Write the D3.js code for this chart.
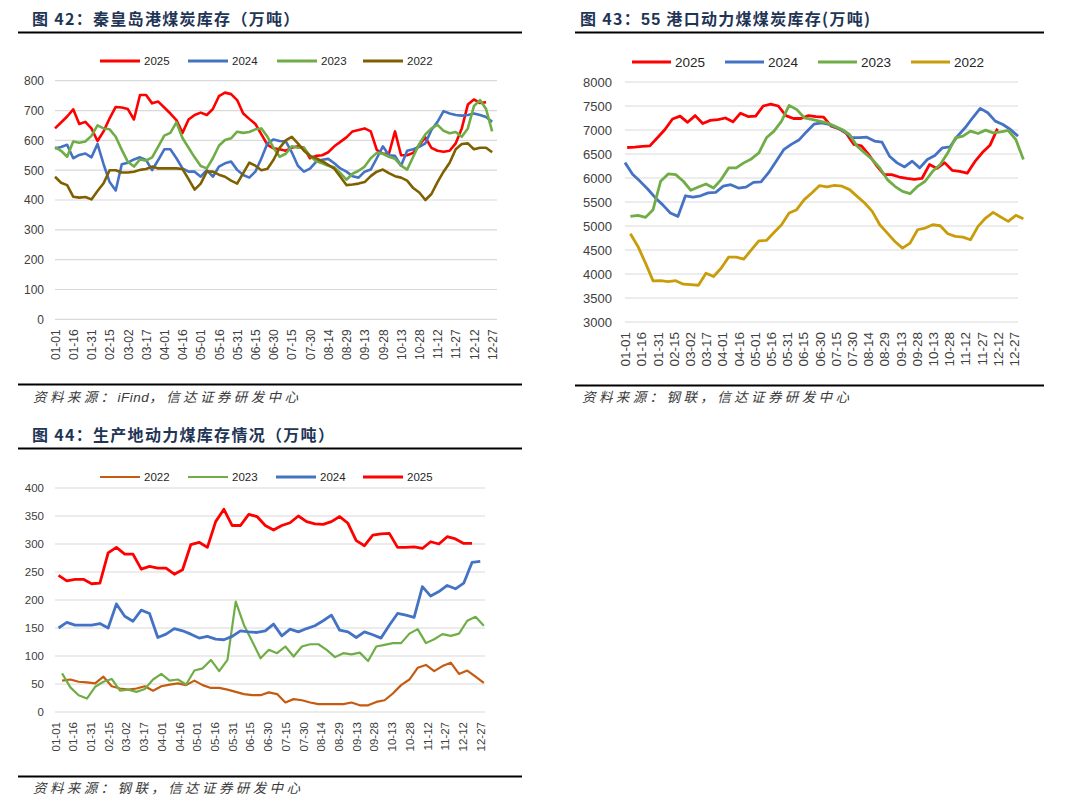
<!DOCTYPE html>
<html>
<head>
<meta charset="utf-8">
<script src="https://cdn.jsdelivr.net/npm/d3@7"></script>
<style>
  body { margin: 0; background: #fff; }
  svg { display: block; }
</style>
</head>
<body>
<svg id="svg" width="1080" height="812"></svg>
<script>
const svg = d3.select("#svg");
const cjk = "'Noto Sans CJK SC', sans-serif";
const latin = "'Liberation Sans', Arial, sans-serif";

// x axis labels, one every 15 days
const dateTicks = ["01-01","01-16","01-31","02-15","03-02","03-17","04-01","04-16","05-01","05-16","05-31","06-15","06-30","07-15","07-30","08-14","08-29","09-13","09-28","10-13","10-28","11-12","11-27","12-12","12-27"];
const tickDays = dateTicks.map((_, i) => i * 15);

// 图42 秦皇岛港煤炭库存, read every 5 days from 01-01
const qhd2025 = [640,660,680,704,655,662,640,598,630,674, 712,710,705,670,752,752,724,730,710,690,
  668,625,670,685,693,685,705,748,760,755, 735,690,672,655,620,585,573,570,565,575,
  580,575,540,548,550,560,580,595,610,630, 635,640,630,568,555,555,630,550,550,558,
  585,610,575,565,562,565,590,640,720,737, 725,728];
const qhd2024 = [573,578,585,540,551,556,543,588,520,460, 432,520,525,536,543,534,500,534,570,570,
  540,506,495,495,478,500,478,512,523,529, 501,484,475,495,540,590,603,598,597,560,
  515,495,505,528,535,538,523,506,495,480, 475,495,502,540,580,550,548,515,565,570,
  578,590,635,662,698,690,685,683,685,690, 685,678,662];
const qhd2023 = [577,565,545,596,592,596,615,650,640,637, 612,568,528,512,536,532,543,579,616,625,
  660,608,575,543,514,506,540,582,601,607, 629,625,628,637,640,612,575,545,555,580,
  575,575,548,530,523,515,510,490,468,488, 498,512,540,558,555,545,538,515,502,545,
  588,620,640,652,632,624,628,612,640,715, 735,705,630];
const qhd2022 = [478,458,450,411,408,410,402,430,456,500, 500,492,492,495,501,504,512,506,506,506,
  506,504,470,435,455,495,495,485,478,465, 455,490,525,515,500,505,535,575,600,612,
  590,565,548,540,530,518,505,478,450,452, 455,460,480,495,502,490,480,475,465,440,
  425,400,420,460,495,525,570,588,590,570, 575,575,560];

// 图43 55港口动力煤煤炭库存, weekly
const port2025 = [6635,6645,6660,6670,6840,7010,7230,7290,7160,7300, 7136,7200,7215,7250,7170,7350,7280,7290,7500,7540,
  7500,7300,7240,7240,7300,7280,7270,7080,7030,6930, 6700,6670,6480,6260,6070,6070,6020,5990,5970,5990,
  6280,6200,6320,6160,6140,6100,6340,6530,6680,7030];
const port2024 = [6320,6080,5930,5770,5590,5440,5270,5200,5630,5600, 5630,5690,5700,5830,5860,5790,5810,5910,5920,6110,
  6350,6590,6700,6790,6960,7120,7150,7115,7046,6976, 6840,6840,6850,6770,6746,6454,6315,6231,6350,6210,
  6385,6468,6628,6650,6872,7046,7255,7450,7360,7185, 7115,7011,6872];
const port2023 = [5200,5222,5180,5340,5932,6085,6071,5932,5744,5813, 5876,5792,5967,6210,6210,6315,6398,6524,6837,6976,
  7185,7513,7429,7255,7220,7185,7150,7081,7011,6907, 6663,6524,6385,6210,5967,5827,5723,5674,5827,5932,
  6140,6280,6524,6837,6872,6976,6927,6997,6941,6960, 6990,6802,6385];
const port2022 = [4838,4574,4225,3856,3863,3843,3860,3787,3780,3766, 4016,3947,4121,4351,4351,4309,4504,4692,4699,4866,
  5026,5270,5340,5549,5688,5841,5813,5848,5830,5758, 5618,5479,5305,5026,4852,4678,4539,4643,4922,4957,
  5026,5005,4838,4783,4769,4713,4992,5166,5284,5187, 5096,5222,5152];

// 图44 生产地动力煤库存, weekly
const prod2022 = [56,58,54,53,51,63,46,42,40,42, 46,38,46,49,51,48,56,48,43,43, 40,36,32,30,30,35,32,17,23,21,
  17,14,14,14,14,17,12,12,18,21, 33,48,58,79,84,73,82,88,68,74, 63,52];
const prod2023 = [69,44,30,24,45,54,59,38,40,36, 41,58,68,56,58,49,74,78,93,73, 93,197,155,126,96,111,105,117,99,117,
  121,121,111,98,105,103,106,91,117,120, 123,123,140,148,123,130,139,136,140,163, 170,154];
const prod2024 = [150,160,155,155,155,158,150,193,171,162, 182,176,133,139,149,145,139,132,135,130, 129,135,145,143,142,145,157,136,148,143,
  149,154,163,173,146,143,133,143,138,132, 155,176,173,169,224,207,215,226,220,230, 267,269];
const prod2025 = [244,234,237,237,229,230,284,294,282,282, 255,260,257,257,246,254,299,303,294,340, 362,333,333,353,349,333,325,333,338,350,
  340,336,335,340,349,337,306,297,316,318, 319,294,294,295,292,304,300,313,309,301, 301];

const yTicks42 = [0,100,200,300,400,500,600,700,800];
const yTicks43 = [3000,3500,4000,4500,5000,5500,6000,6500,7000,7500,8000];
const yTicks44 = [0,50,100,150,200,250,300,350,400];

const red = "#ff0000", blue = "#4472c4", green = "#70ad47";

function panel(p) {
  const g = svg.append("g");

  const t = g.append("text").attr("x", p.titleX).attr("y", p.titleY)
    .attr("fill", "#1f3556").style("font-size", "16px").style("letter-spacing", "1.3px");
  p.title.forEach(s => t.append("tspan").text(s.text)
    .style("font-family", s.latin ? latin : cjk).style("font-weight", 700));

  g.append("line").attr("x1", p.ruleX[0]).attr("x2", p.ruleX[1]).attr("y1", p.ruleTop).attr("y2", p.ruleTop)
    .attr("stroke", "#000").attr("stroke-width", 2.2);
  g.append("line").attr("x1", p.ruleX[0]).attr("x2", p.ruleX[1]).attr("y1", p.ruleBottom).attr("y2", p.ruleBottom)
    .attr("stroke", "#000").attr("stroke-width", 2.2);

  const x = d3.scaleLinear().domain([0, 364]).range([p.x0, p.x1]);
  const y = d3.scaleLinear().domain([p.yTicks[0], p.yTicks[p.yTicks.length - 1]]).range([p.yBottom, p.yTop]);

  g.append("g").selectAll("line").data(p.yTicks).enter().append("line")
    .attr("x1", p.x0).attr("x2", p.x1).attr("y1", d => y(d)).attr("y2", d => y(d))
    .attr("stroke", "#d9d9d9").attr("stroke-width", 1.2);

  const ya = g.append("g").attr("transform", `translate(${p.x0},0)`)
    .call(d3.axisLeft(y).tickValues(p.yTicks).tickFormat(d3.format("d")).tickSize(0).tickPadding(p.yPad));
  ya.select(".domain").remove();
  ya.selectAll("text").style("font-family", latin).style("font-size", p.yFont + "px").attr("fill", "#404040");

  const xa = g.append("g").attr("transform", `translate(0,${p.yBottom})`)
    .call(d3.axisBottom(x).tickValues(tickDays).tickFormat((d, i) => dateTicks[i]).tickSize(0));
  xa.select(".domain").remove();
  xa.selectAll("text")
    .attr("transform", "rotate(-90)").attr("x", -10).attr("y", 0).attr("dy", "0.35em")
    .style("text-anchor", "end").style("font-family", latin).style("font-size", p.xFont + "px").attr("fill", "#404040");

  const line = d3.line().x(d => x(d[0])).y(d => y(d[1]));
  p.series.forEach(s => {
    const pts = s.values.map((v, i) => [s.start + p.step * i, v]);
    g.append("path").datum(pts).attr("d", line).attr("fill", "none")
      .attr("stroke", s.color).attr("stroke-width", s.width).attr("stroke-linejoin", "round");
  });

  p.series.forEach((s, i) => {
    const lx = p.legendX[i];
    g.append("line").attr("x1", lx).attr("x2", lx + p.legendLen).attr("y1", p.legendY).attr("y2", p.legendY)
      .attr("stroke", s.color).attr("stroke-width", s.legendWidth || 3);
    g.append("text").attr("x", lx + p.legendLen + 4).attr("y", p.legendY).attr("dy", "0.35em")
      .style("font-family", latin).style("font-size", p.legendFont + "px").attr("fill", "#262626").text(s.name);
  });

  const src = g.append("text").attr("x", p.srcX).attr("y", p.srcY).attr("fill", "#3a3a3a")
    .style("font-size", "13.5px").style("font-style", "italic").style("letter-spacing", "3.4px");
  p.source.forEach(s => src.append("tspan").text(s.text)
    .style("font-family", s.latin ? latin : cjk).style("letter-spacing", s.latin ? "0.5px" : null));
}

panel({
  title: [{ text: "图 42：秦皇岛港煤炭库存（万吨）" }],
  titleX: 32, titleY: 25, ruleX: [18, 522], ruleTop: 32.5, ruleBottom: 384.5,
  x0: 55, x1: 497, yTop: 80.7, yBottom: 319.3, yTicks: yTicks42, yPad: 11, yFont: 12, xFont: 12,
  step: 5, legendY: 61, legendX: [100, 188, 277, 363], legendLen: 40, legendFont: 11.5,
  series: [
    { name: "2025", values: qhd2025, start: 0, color: red, width: 2.6 },
    { name: "2024", values: qhd2024, start: 0, color: blue, width: 2.6 },
    { name: "2023", values: qhd2023, start: 0, color: green, width: 2.6 },
    { name: "2022", values: qhd2022, start: 0, color: "#7f6000", width: 2.6 }
  ],
  source: [{ text: "资料来源：" }, { text: "iFind", latin: true }, { text: "，信达证券研发中心" }],
  srcX: 33, srcY: 402
});

panel({
  title: [{ text: "图 43：" }, { text: "55", latin: true }, { text: " 港口动力煤煤炭库存(万吨)" }],
  titleX: 580, titleY: 25, ruleX: [575, 1044], ruleTop: 32.5, ruleBottom: 385.5,
  x0: 625, x1: 1018, yTop: 82, yBottom: 322, yTicks: yTicks43, yPad: 13, yFont: 13, xFont: 13.5,
  step: 7, legendY: 62, legendX: [632, 725, 818, 911], legendLen: 39, legendFont: 13.5,
  series: [
    { name: "2025", values: port2025, start: 2, color: red, width: 2.8 },
    { name: "2024", values: port2024, start: 0, color: blue, width: 2.8 },
    { name: "2023", values: port2023, start: 5, color: green, width: 2.8 },
    { name: "2022", values: port2022, start: 5, color: "#c99c0a", width: 2.8 }
  ],
  source: [{ text: "资料来源：钢联，信达证券研发中心" }],
  srcX: 582, srcY: 402
});

panel({
  title: [{ text: "图 44：生产地动力煤库存情况（万吨）" }],
  titleX: 32, titleY: 441, ruleX: [18, 522], ruleTop: 448.5, ruleBottom: 776.5,
  x0: 55, x1: 485, yTop: 488, yBottom: 712, yTicks: yTicks44, yPad: 11, yFont: 11.5, xFont: 11.5,
  step: 7, legendY: 477, legendX: [100, 188, 276, 363], legendLen: 40, legendFont: 11.5,
  series: [
    { name: "2022", values: prod2022, start: 6, color: "#c55a11", width: 2.2, legendWidth: 2.2 },
    { name: "2023", values: prod2023, start: 6, color: green, width: 2.2, legendWidth: 2.2 },
    { name: "2024", values: prod2024, start: 3, color: blue, width: 2.8, legendWidth: 3 },
    { name: "2025", values: prod2025, start: 3, color: red, width: 2.8, legendWidth: 3 }
  ],
  source: [{ text: "资料来源：钢联，信达证券研发中心" }],
  srcX: 33, srcY: 793
});
</script>
</body>
</html>
